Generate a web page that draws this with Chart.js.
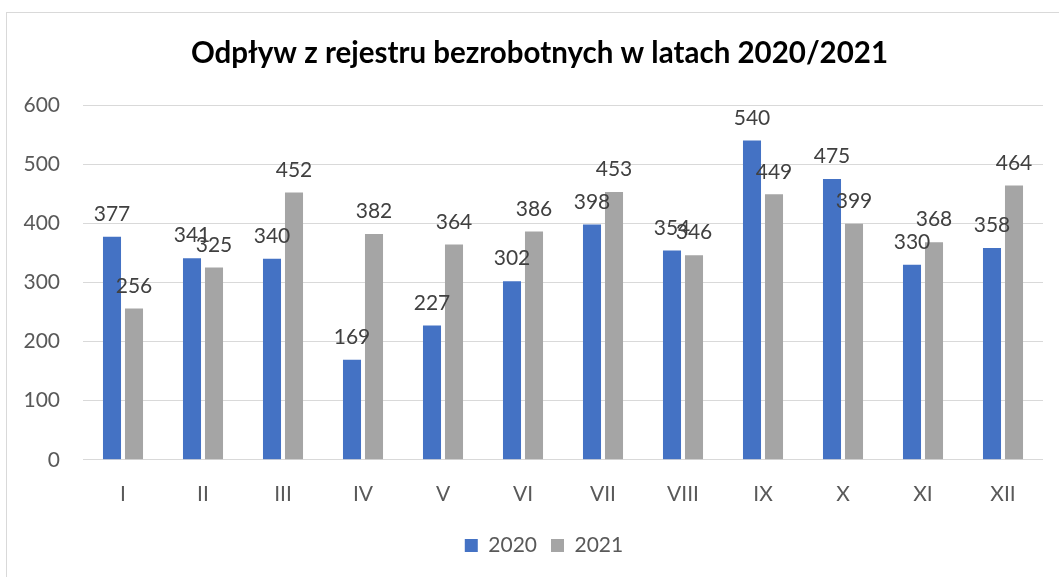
<!DOCTYPE html>
<html lang="pl">
<head>
<meta charset="utf-8">
<title>Odpływ z rejestru bezrobotnych</title>
<script src="https://cdn.jsdelivr.net/npm/chart.js@4/dist/chart.umd.min.js"></script>
<style>
  html, body { margin: 0; padding: 0; background: #fff; overflow: hidden; }
  #frame {
    position: absolute; left: 6px; top: 12px;
    width: 1065px; height: 620px;
    border: 1px solid #d9d9d9;
  }
  #wrap { position: absolute; left: 0; top: 0; width: 1059px; height: 577px; }
</style>
</head>
<body>
<div id="frame"></div>
<div id="wrap"><canvas id="chart"></canvas></div>
<script>
/* ── Data ── */
const months  = ['I', 'II', 'III', 'IV', 'V', 'VI', 'VII', 'VIII', 'IX', 'X', 'XI', 'XII'];
const year2020 = [377, 341, 340, 169, 227, 302, 398, 354, 540, 475, 330, 358];
const year2021 = [256, 325, 452, 382, 364, 386, 453, 346, 449, 399, 368, 464];
const seriesNames = ['2020', '2021'];
const yTicks = { min: 0, max: 600, step: 100 };
const chartTitle = 'Odpływ z rejestru bezrobotnych w latach 2020/2021';

const FONT = "Lato, 'Open Sans', sans-serif";

/* ── Title and legend centred on the whole frame rather than on the plot ── */
const frameCentre = {
  id: 'frameCentre',
  afterLayout(chart) {
    const shift = 21;
    chart.legend.left  += shift;
    chart.legend.right += shift;
  },
  afterDraw(chart) {
    const ctx = chart.ctx;
    ctx.save();
    ctx.font = `bold 29.5px ${FONT}`;
    ctx.fillStyle = '#000';
    ctx.textAlign = 'center';
    ctx.textBaseline = 'middle';
    ctx.fillText(chartTitle, 539.5, 53);
    ctx.restore();
  }
};

/* ── Value labels above each bar ── */
const valueLabels = {
  id: 'valueLabels',
  afterDatasetsDraw(chart) {
    const ctx = chart.ctx;
    ctx.save();
    ctx.font = `21px ${FONT}`;
    ctx.fillStyle = '#404040';
    ctx.textAlign = 'center';
    ctx.textBaseline = 'bottom';
    chart.data.datasets.forEach((ds, di) => {
      chart.getDatasetMeta(di).data.forEach((bar, i) => {
        ctx.fillText(String(ds.data[i]), bar.x, bar.y - 12);
      });
    });
    ctx.restore();
  }
};

new Chart(document.getElementById('chart'), {
  type: 'bar',
  data: {
    labels: months,
    datasets: [
      { label: seriesNames[0], data: year2020, backgroundColor: '#4472C4' },
      { label: seriesNames[1], data: year2021, backgroundColor: '#A5A5A5' }
    ]
  },
  options: {
    responsive: true,
    maintainAspectRatio: false,
    animation: false,
    layout: { padding: { left: 3, right: 16, top: 105, bottom: 11 } },
    datasets: { bar: { categoryPercentage: 0.55, barPercentage: 0.82 } },
    plugins: {
      title: { display: false },
      legend: {
        position: 'bottom',
        labels: {
          color: '#595959',
          font: { family: FONT, size: 21 },
          boxWidth: 13,
          boxHeight: 13,
          padding: 14
        }
      },
      tooltip: { enabled: false }
    },
    scales: {
      x: {
        grid: { display: false },
        border: { display: false },
        ticks: { color: '#595959', font: { family: FONT, size: 21 }, padding: 14 }
      },
      y: {
        min: yTicks.min,
        max: yTicks.max,
        afterFit: scale => { scale.width = 80; },
        grid: { color: '#d9d9d9', drawTicks: false },
        border: { display: false },
        ticks: {
          stepSize: yTicks.step,
          color: '#595959',
          font: { family: FONT, size: 21 },
          padding: 23
        }
      }
    }
  },
  plugins: [valueLabels, frameCentre]
});
</script>
</body>
</html>
